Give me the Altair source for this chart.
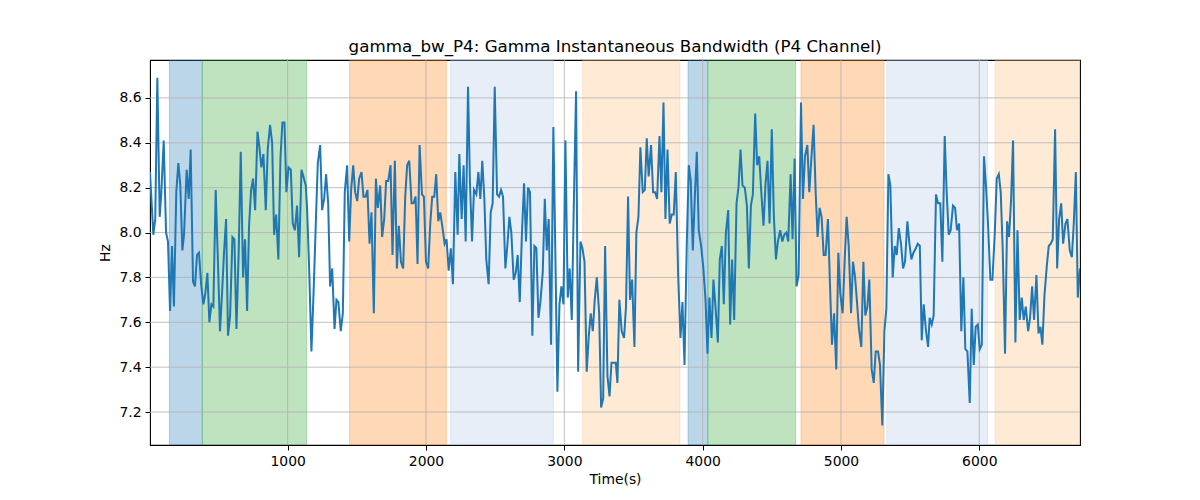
import altair as alt
import pandas as pd

TITLE = "gamma_bw_P4: Gamma Instantaneous Bandwidth (P4 Channel)"
X_LABEL = "Time(s)"
Y_LABEL = "Hz"

x_ticks = [1000, 2000, 3000, 4000, 5000, 6000]
y_ticks = [7.2, 7.4, 7.6, 7.8, 8.0, 8.2, 8.4, 8.6]
x_domain = [5, 6728]
y_domain = [7.053, 8.769]

span_starts = [145, 383, 1448, 2178, 3133, 3895, 4038, 4711, 5331, 6114]
span_ends = [383, 1138, 2147, 2921, 3835, 4038, 4672, 5311, 6061, 6728]
span_colors = ["#1f77b4", "#2ca02c", "#ff7f0e", "#aec7e8", "#ffbb78",
               "#1f77b4", "#2ca02c", "#ff7f0e", "#aec7e8", "#ffbb78"]

# (time s, bandwidth Hz), segment by segment
seg1 = [(5, 8.27), (29, 7.99), (43, 8.06), (58, 8.69), (75, 8.07), (87, 8.18), (104, 8.41), (121, 8.00),
        (135, 7.96), (150, 7.65), (164, 7.94), (178, 7.67), (195, 8.18), (210, 8.31), (224, 8.21), (239, 7.92),
        (251, 7.99), (270, 8.28), (285, 8.15), (299, 8.37), (316, 7.78), (330, 7.76), (345, 7.90), (359, 7.91),
        (376, 7.76), (391, 7.68), (405, 7.73), (420, 7.82), (434, 7.60), (449, 7.68), (463, 7.67), (480, 8.19),
        (497, 7.85), (511, 7.56), (526, 7.73), (540, 7.91), (555, 8.06), (569, 7.54), (584, 7.63), (601, 7.98),
        (615, 7.97), (630, 7.57), (646, 7.91), (661, 8.36), (678, 7.80), (692, 7.97), (707, 7.65), (721, 8.03),
        (736, 8.19), (750, 8.24), (765, 8.10), (782, 8.45), (796, 8.38), (810, 8.29), (825, 8.35), (842, 8.10),
        (856, 8.37), (873, 8.48), (888, 8.40), (902, 7.99), (917, 8.08), (933, 7.88), (948, 8.33), (962, 8.49),
        (977, 8.49), (991, 8.18), (1006, 8.29), (1023, 8.28), (1037, 8.04), (1052, 8.01), (1068, 8.12),
        (1083, 7.89), (1100, 8.28), (1114, 8.25), (1131, 8.21)]
seg2 = [(1141, 8.10), (1155, 7.85), (1172, 7.47), (1189, 7.76), (1203, 8.03), (1218, 8.31), (1235, 8.39),
        (1249, 8.10), (1264, 8.15), (1278, 8.26), (1293, 8.13), (1307, 7.76), (1322, 7.84), (1339, 7.57),
        (1353, 7.70), (1367, 7.69), (1384, 7.56), (1399, 7.64), (1413, 8.18), (1430, 8.30), (1445, 7.96),
        (1459, 8.19), (1474, 8.30), (1488, 8.18), (1503, 8.14), (1517, 8.24), (1534, 8.27), (1548, 8.16),
        (1563, 8.16), (1577, 8.19), (1592, 7.95), (1606, 8.09), (1623, 7.64), (1638, 8.24), (1652, 8.11),
        (1669, 8.21), (1683, 7.98), (1698, 8.06), (1712, 8.23), (1727, 8.23), (1744, 8.30), (1758, 7.90),
        (1775, 8.32), (1790, 7.84), (1804, 8.03), (1819, 7.87), (1835, 7.84), (1850, 8.16), (1864, 8.30),
        (1879, 8.32), (1896, 8.13), (1910, 8.13), (1925, 8.16), (1939, 7.86), (1954, 8.39), (1971, 8.17),
        (1985, 8.16), (2000, 7.87), (2016, 7.84), (2031, 8.04), (2045, 8.16), (2060, 8.16), (2074, 8.26),
        (2089, 8.05), (2103, 8.09), (2120, 8.02), (2135, 7.95), (2149, 7.97), (2164, 7.83), (2180, 7.93),
        (2195, 7.77), (2212, 8.27)]
seg3 = [(2229, 7.99), (2241, 8.35), (2258, 8.06), (2272, 8.30), (2287, 7.96), (2304, 8.65), (2318, 8.22),
        (2333, 7.96), (2347, 8.19), (2364, 8.17), (2379, 8.27), (2393, 8.15), (2407, 8.32), (2422, 8.15),
        (2436, 7.88), (2453, 7.77), (2468, 8.09), (2482, 8.13), (2497, 8.65), (2514, 8.17), (2528, 8.16),
        (2543, 8.19), (2557, 8.16), (2574, 7.84), (2588, 7.94), (2603, 8.07), (2617, 8.00), (2634, 7.79),
        (2649, 7.82), (2663, 7.90), (2678, 7.69), (2694, 8.00), (2709, 8.22), (2723, 7.96), (2738, 8.20),
        (2752, 8.18), (2769, 7.54), (2784, 7.94), (2798, 7.93), (2813, 7.62), (2827, 7.69), (2844, 7.82),
        (2859, 8.15), (2873, 7.92), (2887, 8.06), (2904, 7.50), (2921, 8.47), (2936, 7.88), (2950, 7.29),
        (2965, 7.68), (2979, 7.76), (2994, 7.68), (3008, 8.41), (3025, 7.71), (3039, 7.84), (3054, 7.61),
        (3068, 8.10), (3085, 8.63), (3100, 7.38), (3117, 7.96), (3131, 7.93), (3146, 7.87), (3162, 7.38),
        (3177, 7.54), (3191, 7.64), (3206, 7.56), (3220, 7.70), (3235, 7.80), (3252, 7.64), (3266, 7.22),
        (3281, 7.26), (3295, 7.94), (3312, 7.36), (3327, 7.27), (3341, 7.42), (3358, 7.42), (3372, 7.42)]
seg4 = [(3384, 7.33), (3398, 7.70), (3415, 7.56), (3432, 7.53), (3446, 7.67), (3461, 8.16), (3475, 7.70),
        (3490, 7.79), (3507, 7.49), (3521, 8.00), (3536, 8.07), (3550, 8.38), (3567, 8.18), (3582, 8.19),
        (3596, 8.42), (3610, 8.25), (3627, 8.39), (3642, 8.18), (3656, 8.18), (3671, 8.15), (3688, 8.43),
        (3702, 8.18), (3717, 8.58), (3731, 8.06), (3746, 8.37), (3762, 8.04), (3777, 8.08), (3791, 8.08),
        (3806, 8.27), (3823, 7.81), (3840, 7.53), (3854, 7.69), (3869, 7.41), (3885, 7.94), (3900, 8.30),
        (3914, 8.23), (3929, 7.92), (3943, 8.15), (3958, 8.36), (3972, 8.01), (3989, 7.94), (4004, 7.85),
        (4021, 7.70), (4035, 7.46), (4049, 7.71), (4064, 7.53), (4078, 7.79), (4093, 7.67), (4110, 7.51),
        (4124, 7.88), (4139, 7.94), (4153, 7.68), (4168, 8.00), (4185, 8.10), (4199, 7.59), (4213, 7.88),
        (4228, 7.61), (4245, 8.13), (4259, 8.20), (4274, 8.37), (4288, 8.21), (4305, 8.20), (4320, 8.12),
        (4334, 7.84), (4349, 8.12), (4363, 8.17), (4380, 8.53), (4394, 8.30), (4409, 8.34), (4423, 8.19),
        (4440, 8.03), (4455, 8.22), (4469, 8.32), (4484, 8.04), (4500, 8.46)]
seg5 = [(4515, 8.07), (4530, 7.88), (4544, 7.96), (4561, 8.01), (4576, 7.96), (4590, 7.99), (4605, 8.00),
        (4619, 7.96), (4636, 8.26), (4650, 7.97), (4665, 8.33), (4679, 7.76), (4694, 7.81), (4711, 8.58),
        (4725, 8.15), (4740, 8.34), (4757, 8.39), (4771, 8.18), (4786, 8.33), (4802, 8.48), (4817, 8.18),
        (4831, 7.98), (4846, 8.11), (4860, 8.07), (4875, 7.90), (4889, 7.90), (4906, 8.06), (4921, 7.76),
        (4935, 7.50), (4950, 7.64), (4966, 7.39), (4981, 7.91), (4995, 7.73), (5012, 7.64), (5027, 7.88),
        (5041, 8.07), (5056, 7.94), (5073, 7.64), (5087, 7.87), (5102, 7.80), (5116, 7.69), (5130, 7.57),
        (5147, 7.49), (5162, 7.87), (5176, 7.63), (5191, 7.67), (5205, 7.79), (5222, 7.39), (5237, 7.33),
        (5251, 7.47), (5268, 7.47), (5282, 7.41), (5299, 7.14), (5314, 7.56), (5328, 7.66), (5343, 8.26),
        (5357, 8.21), (5374, 7.80), (5389, 7.94), (5403, 7.90), (5418, 8.02), (5434, 7.95), (5449, 7.84),
        (5463, 7.87), (5480, 8.05), (5495, 7.95), (5509, 7.88), (5524, 7.91), (5541, 7.93), (5555, 7.95),
        (5570, 7.94), (5584, 7.52), (5598, 7.68), (5615, 7.56), (5630, 7.49)]
seg6 = [(5641, 7.62), (5656, 7.59), (5670, 7.63), (5687, 8.17), (5702, 8.13), (5718, 8.13), (5733, 7.87),
        (5750, 8.43), (5764, 8.18), (5779, 7.99), (5793, 8.01), (5810, 8.12), (5825, 8.11), (5839, 8.01),
        (5854, 8.04), (5870, 7.56), (5885, 7.80), (5899, 7.48), (5914, 7.47), (5931, 7.24), (5945, 7.66),
        (5960, 7.41), (5974, 7.58), (5989, 7.59), (6003, 7.48), (6018, 7.50), (6034, 8.34), (6049, 8.20),
        (6063, 8.04), (6080, 7.79), (6095, 7.79), (6112, 8.00), (6126, 8.24), (6141, 8.26), (6155, 8.18),
        (6169, 7.93), (6186, 7.46), (6201, 8.05), (6215, 7.98), (6230, 8.15), (6244, 8.41), (6261, 7.51),
        (6276, 8.01), (6292, 7.61), (6307, 7.71), (6321, 7.61), (6336, 7.67), (6353, 7.56), (6367, 7.62),
        (6382, 7.76), (6396, 7.61), (6413, 7.81), (6428, 7.55), (6442, 7.58), (6456, 7.50), (6471, 7.72),
        (6488, 7.85), (6502, 7.94), (6517, 7.95), (6531, 7.97), (6548, 8.46), (6563, 7.84), (6577, 8.06),
        (6592, 8.13), (6606, 7.95), (6623, 8.04), (6637, 8.06), (6654, 7.92), (6669, 7.89), (6683, 8.04),
        (6698, 8.27), (6712, 7.71), (6728, 7.84)]

series = seg1 + seg2 + seg3 + seg4 + seg5 + seg6
line_df = pd.DataFrame(series, columns=["t", "hz"])
span_df = pd.DataFrame({"start": span_starts, "end": span_ends, "color": span_colors})
xgrid_df = pd.DataFrame({"v": x_ticks})
ygrid_df = pd.DataFrame({"v": y_ticks})

FONT = "DejaVu Sans"
xscale = alt.Scale(domain=x_domain, nice=False, zero=False)
yscale = alt.Scale(domain=y_domain, nice=False, zero=False)

axis_common = dict(grid=False, domain=False, tickColor="black", tickSize=5, tickWidth=1,
                   labelFont=FONT, labelFontSize=13.9, labelColor="black", labelPadding=4,
                   titleFont=FONT, titleFontSize=13.9, titleFontWeight="normal", titleColor="black")
x_axis = alt.Axis(values=x_ticks, format="d", title=X_LABEL, titlePadding=5, **axis_common)
y_axis = alt.Axis(values=y_ticks, format=".1f", title=Y_LABEL, titlePadding=6, **axis_common)

spans = alt.Chart(span_df).mark_rect(clip=True, fillOpacity=0.3, strokeOpacity=0.3, strokeWidth=1).encode(
    x=alt.X("start:Q", scale=xscale, axis=x_axis, title=X_LABEL),
    x2="end:Q",
    y=alt.value(0),
    y2=alt.value(385),
    fill=alt.Color("color:N", scale=None),
    stroke=alt.Color("color:N", scale=None),
)

grid_x = alt.Chart(xgrid_df).mark_rule(color="#b0b0b0", strokeWidth=0.8).encode(
    x=alt.X("v:Q", scale=xscale, axis=x_axis, title=X_LABEL))
grid_y = alt.Chart(ygrid_df).mark_rule(color="#b0b0b0", strokeWidth=0.8).encode(
    y=alt.Y("v:Q", scale=yscale, axis=y_axis, title=Y_LABEL))

line = alt.Chart(line_df).mark_line(color="#1f77b4", strokeWidth=2, clip=True).encode(
    x=alt.X("t:Q", scale=xscale, axis=x_axis, title=X_LABEL),
    y=alt.Y("hz:Q", scale=yscale, axis=y_axis, title=Y_LABEL),
)

chart = alt.layer(spans, grid_x, grid_y, line).properties(
    width=930,
    height=385,
    padding={"left": 142, "top": 52, "right": 112, "bottom": 47},
    autosize=alt.AutoSizeParams(type="none"),
    background="white",
    title=alt.TitleParams(TITLE, font=FONT, fontSize=16.7, fontWeight="normal", color="black",
                          anchor="middle", frame="group", baseline="bottom", offset=8, dy=21),
).configure_view(stroke="black", strokeWidth=1.1)

chart.save("out.html", embed_options={"renderer": "svg", "actions": False})
